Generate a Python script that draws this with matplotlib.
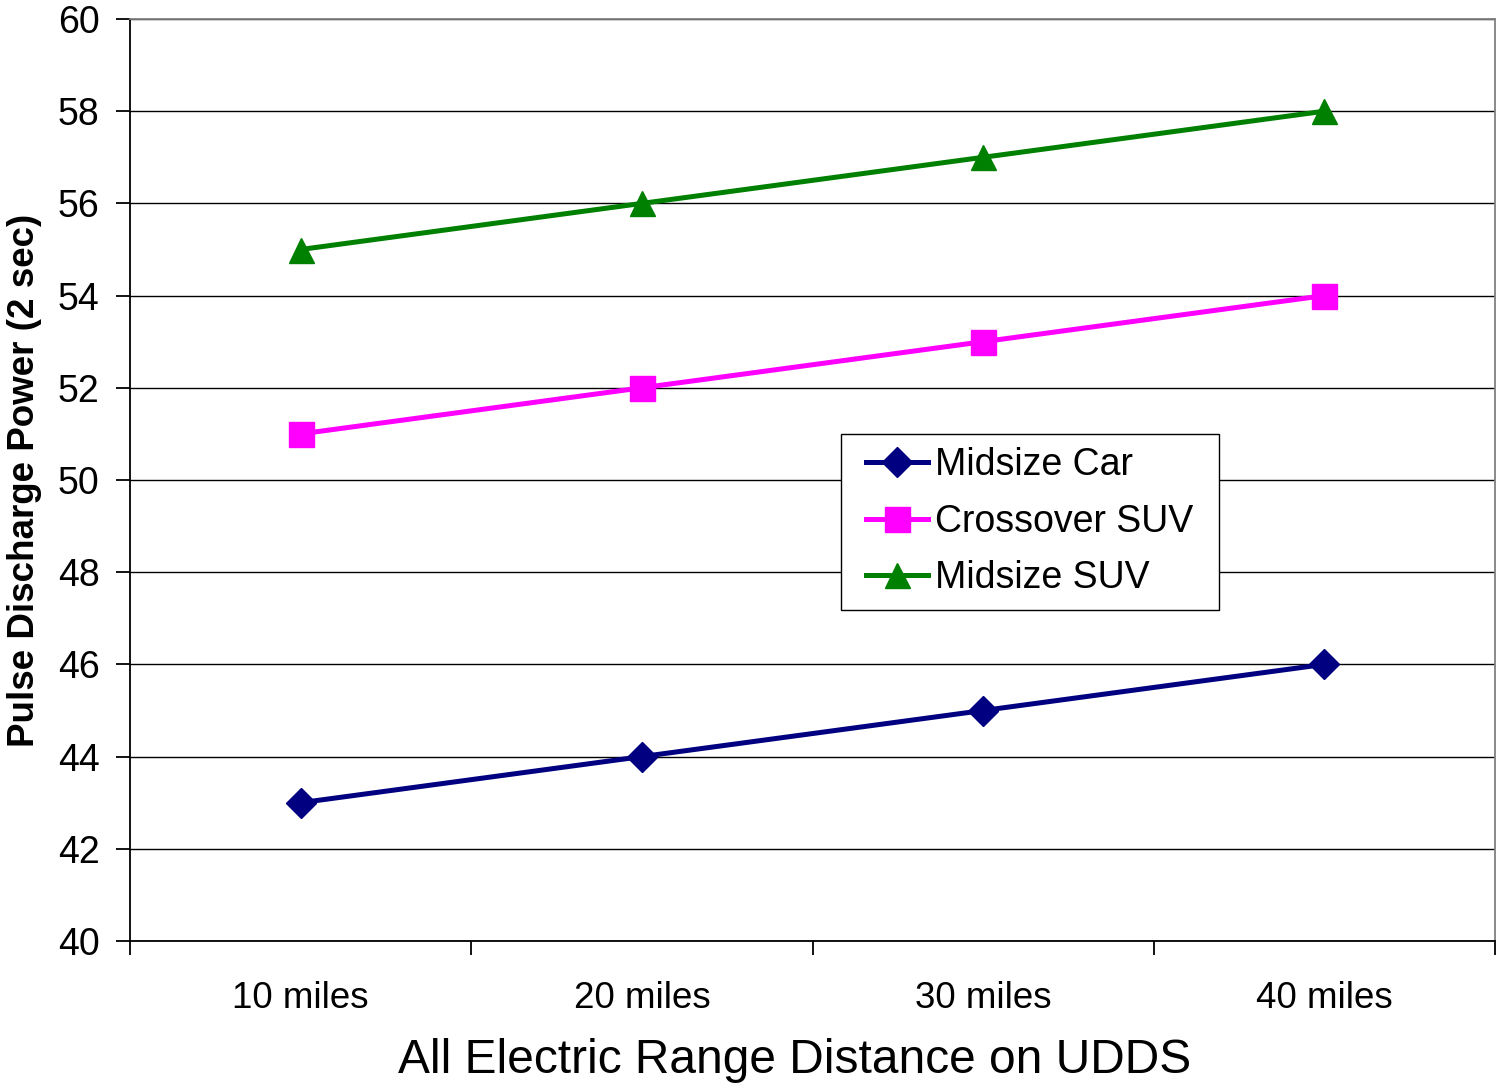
#!/usr/bin/env python3

from matplotlib import pyplot as plt
from matplotlib.ticker import FixedLocator, NullFormatter
from matplotlib.path import Path
import matplotlib
import numpy as np


FIGSIZE = (14.97, 10.87)

ranges = ["10 miles", "20 miles", "30 miles", "40 miles"]
midsize_car = [43, 44, 45, 46]
crossover_suv = [51, 52, 53, 54]
midsize_suv = [55, 56, 57, 58]


def wide_box(x0, y0, width, height, mutation_size):
    # legend frame with extra room left and right only
    pad = 0.33 * mutation_size
    verts = [(x0 - pad, y0), (x0 + width + pad, y0),
             (x0 + width + pad, y0 + height), (x0 - pad, y0 + height),
             (x0 - pad, y0)]
    return Path(verts, closed=True)


def setup():
    matplotlib.rcParams.update({
        "font.family": ["Liberation Sans", "DejaVu Sans"],
        "axes.linewidth": 1.3,
    })


def plot_power():
    fig = plt.figure(figsize=FIGSIZE, dpi=100)
    ax = fig.add_axes([130 / 1497, 146 / 1087, 1365 / 1497, 922 / 1087])

    xs = np.arange(1, len(ranges) + 1)
    ax.plot(xs, midsize_car, "-D", color="#000080", lw=3.6, ms=15,
            label="Midsize Car")
    ax.plot(xs, crossover_suv, "-s", color="#FF00FF", lw=3.6, ms=18,
            label="Crossover SUV")
    ax.plot(xs, midsize_suv, "-^", color="#008000", lw=3.6, ms=18,
            label="Midsize SUV")

    ax.set_xlim(0.5, len(ranges) + 0.5)
    ax.set_ylim(40, 60)
    ax.set_yticks(np.arange(40, 61, 2))
    ax.yaxis.grid(True, color="black", lw=1)
    ax.set_axisbelow(True)

    # category boundaries get the ticks, labels sit in between
    ax.xaxis.set_major_locator(FixedLocator(np.arange(0.5, len(ranges) + 1)))
    ax.xaxis.set_major_formatter(NullFormatter())
    ax.xaxis.set_minor_locator(FixedLocator(xs))
    ax.set_xticklabels(ranges, minor=True)
    ax.tick_params(axis="x", which="major", direction="out", length=10,
                   width=1.3)
    ax.tick_params(axis="x", which="minor", length=0, pad=29, labelsize=26.5)
    ax.tick_params(axis="y", direction="out", length=10, width=1.3,
                   labelsize=27, pad=12)

    ax.spines["top"].set_color("#808080")
    ax.spines["right"].set_color("#808080")

    ax.set_xlabel("All Electric Range Distance on UDDS", fontsize=34.5)
    ax.xaxis.set_label_coords((795 - 130) / 1365, (941 - 1038) / 922)
    ax.set_ylabel("Pulse Discharge Power (2 sec)", fontsize=26.5,
                  fontweight="bold")
    ax.yaxis.set_label_coords((42 - 130) / 1365, (941 - 480) / 922)

    leg = ax.legend(loc="upper left",
                    bbox_to_anchor=((853 - 130) / 1365, (941 - 434) / 922),
                    borderaxespad=0, fontsize=27, frameon=True,
                    fancybox=False, edgecolor="black", framealpha=1,
                    handlelength=1.65, handletextpad=0.19, borderpad=0.35,
                    labelspacing=0.55)
    leg.get_frame().set_linewidth(1.0)
    leg.get_frame().set_boxstyle(wide_box)
    return fig


def main():
    setup()
    fig = plot_power()
    fig.savefig("out.png", dpi=100)


if __name__ == "__main__":
    main()
